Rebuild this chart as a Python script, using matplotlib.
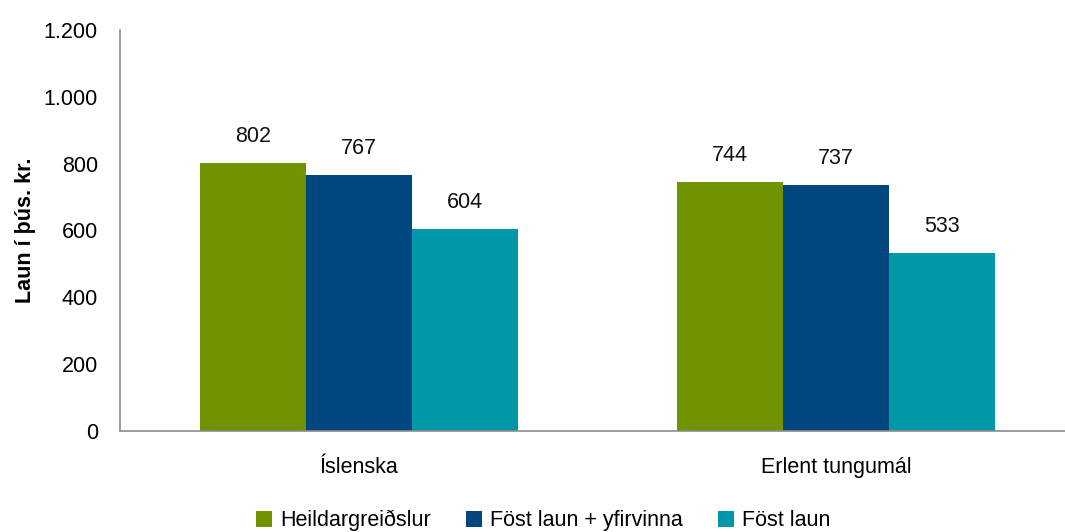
import matplotlib
matplotlib.use("Agg")
import matplotlib.pyplot as plt
import numpy as np
from matplotlib import font_manager

names = {f.name for f in font_manager.fontManager.ttflist}
fam = ["Liberation Sans Narrow"] if "Liberation Sans Narrow" in names else ["Liberation Sans"]
plt.rcParams["font.family"] = fam + ["DejaVu Sans"]

categories = ["Íslenska", "Erlent tungumál"]
series = ["Heildargreiðslur", "Föst laun + yfirvinna", "Föst laun"]
values = [[802, 744], [767, 737], [604, 533]]
colors = ["#6F9400", "#00467F", "#0098A8"]
yticks = [0, 200, 400, 600, 800, 1000, 1200]
ylabels = ["0", "200", "400", "600", "800", "1.000", "1.200"]

FS = 15.5
fig = plt.figure(figsize=(10.65, 5.32), dpi=100)
ax = fig.add_axes([120/1065, 101/532, (1075-120)/1065, 401/532])
x = np.arange(len(categories))
w = 0.222
for i, (s, v, c) in enumerate(zip(series, values, colors)):
    pos = x + (i - 1) * w
    ax.bar(pos, v, width=w, color=c, label=s)
    for p, val in zip(pos, v):
        ax.text(p, val + 48, f"{val}", ha="center", va="bottom", fontsize=FS, color="#111111")

ax.set_xlim(-0.5, 1.5)
ax.set_ylim(0, 1200)
ax.set_yticks(yticks)
ax.set_yticklabels(ylabels, fontsize=FS)
ax.set_xticks(x)
ax.set_xticklabels(categories, fontsize=FS)
ax.tick_params(axis="y", length=0, pad=16)
ax.tick_params(axis="x", length=0, pad=19)
for sp in ["top", "right"]:
    ax.spines[sp].set_visible(False)
for sp in ["left", "bottom"]:
    ax.spines[sp].set_color("#8C8C8C")
    ax.spines[sp].set_linewidth(1.2)
ax.set_ylabel("Laun í þús. kr.", fontsize=FS, fontweight="bold")
ax.yaxis.set_label_coords(-0.088, 0.5)

fig.legend(loc="lower center", bbox_to_anchor=(0.51, -0.035), ncol=3, frameon=False,
           fontsize=FS, handlelength=0.75, handleheight=0.75, columnspacing=1.6, handletextpad=0.4)

fig.savefig("out.png", dpi=100)
